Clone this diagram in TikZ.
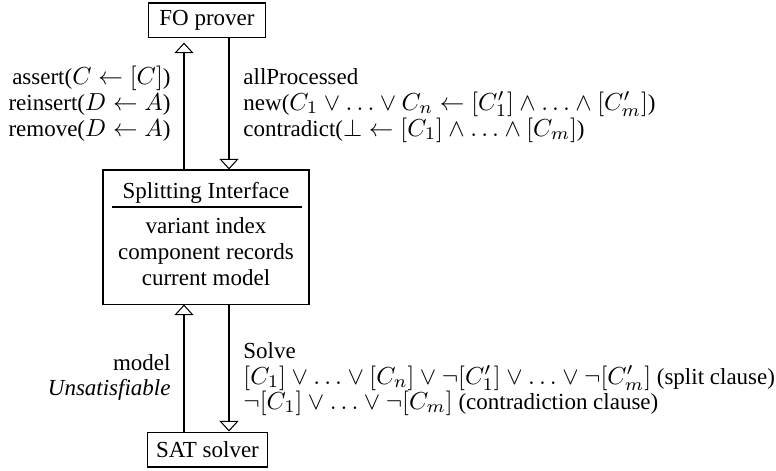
\RequirePackage{fix-cm}
\documentclass[tikz,border=0pt]{standalone}
\usepackage{fontspec}
\setmainfont{Liberation Serif}
\DeclareMathSizes{10}{10.7}{7.8}{5.8}
\usetikzlibrary{arrows.meta}
\begin{document}
\begin{tikzpicture}[x=0.435pt,y=-0.435pt,
  font=\fontsize{10}{12}\selectfont,
  box/.style={draw, line width=0.45pt, inner sep=0pt},
  lbl/.style={inner sep=0pt},
  flow/.style={line width=0.45pt, -{Triangle[open, width=8.3pt, length=4.6pt]}}]
\useasboundingbox (0,0) rectangle (776,470);
% boxes
\node[box, minimum width=51.3pt, minimum height=14.8pt] (fo) at (207,20) {FO prover};
\node[box, minimum width=89.6pt, minimum height=58.3pt] (sp) at (206,237) {};
\node[box, minimum width=52.6pt, minimum height=15.2pt] (sat) at (207.5,449.5) {SAT solver};
% splitting interface contents
\node[lbl, anchor=base] (t0) at (206,198) {Splitting Interface};
\draw[line width=0.45pt] (112,207) -- (302,207);
\node[lbl, anchor=base] (t1) at (206,233) {variant index};
\node[lbl, anchor=base] (t2) at (206,259) {component records};
\node[lbl, anchor=base] (t3) at (206,285) {current model};
% arrow lines
\coordinate (ua) at (184,0);
\coordinate (da) at (229,0);
\draw[flow, shorten >=2.2pt] (ua |- sp.north) -- (ua |- fo.south);
\draw[flow] (da |- fo.south) -- (da |- sp.north);
\draw[flow] (ua |- sat.north) -- (ua |- sp.south);
\draw[flow] (da |- sp.south) -- (da |- sat.north);
% top labels
\node[lbl, anchor=base east] (a1) at (171,84) {assert($C \leftarrow [C]$)};
\node[lbl, anchor=base east] (a2) at (171,110) {reinsert($D \leftarrow A$)};
\node[lbl, anchor=base east] (a3) at (171,136) {remove($D \leftarrow A$)};
\node[lbl, anchor=base west] (b1) at (243,84) {allProcessed};
\node[lbl, anchor=base west] (b2) at (243,110) {new($C_1 \vee \ldots \vee C_n \leftarrow [C'_1] \wedge \ldots \wedge [C'_m]$)};
\node[lbl, anchor=base west] (b3) at (243,136) {contradict($\bot \leftarrow [C_1] \wedge \ldots \wedge [C_m]$)};
% bottom labels
\node[lbl, anchor=base east] (c1) at (171,370) {model};
\node[lbl, anchor=base east] (c2) at (171,395) {\itshape Unsatisfiable};
\node[lbl, anchor=base west] (d1) at (243,358) {Solve};
\node[lbl, anchor=base west] (d2) at (243,384) {$[C_1] \vee \ldots \vee [C_n] \vee \neg[C'_1] \vee \ldots \vee \neg[C'_m]$ (split clause)};
\node[lbl, anchor=base west] (d3) at (243,409) {$\neg[C_1] \vee \ldots \vee \neg[C_m]$ (contradiction clause)};
\end{tikzpicture}
\end{document}
